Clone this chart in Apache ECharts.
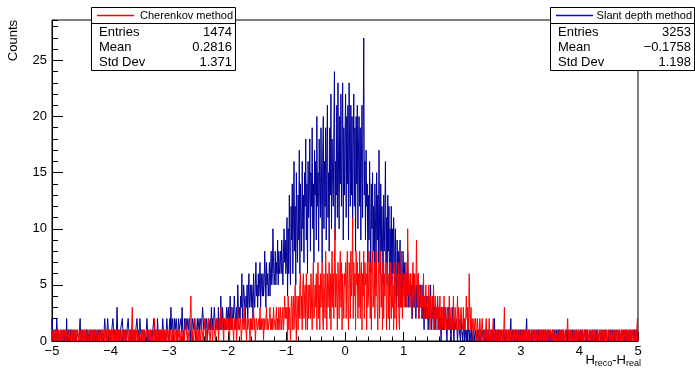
<!DOCTYPE html>
<html>
<head>
<meta charset="utf-8">
<script src="https://cdn.jsdelivr.net/npm/echarts@6/dist/echarts.min.js"></script>
<style>
html,body{margin:0;padding:0;background:#fff;}
#chart{width:695px;height:369px;}
</style>
</head>
<body>
<div id="chart"></div>
<script>
// histogram: 1000 bins of 0.01 from -5 to 5, one array per unit
var xMin = -5, xMax = 5, nPerUnit = 100;
var yMax = 28.6;

// Slant depth method (blue)
var blueM5 = [2,1,0,1,1,0,1,0,2,1, 0,1,1,0,0,1,1,1,0,1, 1,0,1,1,0,2,0,0,1,1, 0,1,0,1,1,0,1,1,0,1, 1,0,0,1,1,1,0,1,2,0,
              1,0,1,1,0,0,1,1,0,1, 0,1,1,0,1,0,0,1,1,0, 1,1,0,1,0,1,1,0,0,1, 1,0,1,1,1,0,1,1,0,1, 2,1,1,0,1,2,1,0,1,1];
var blueM4 = [1,0,1,1,2,1,0,1,1,0, 1,3,1,0,1,1,0,1,1,1, 2,1,0,1,1,0,1,0,1,1, 2,1,1,0,1,0,1,1,0,1, 1,1,0,1,1,2,1,0,1,0,
              2,1,1,0,1,1,0,1,1,1, 0,1,2,1,0,1,1,0,1,1, 1,0,1,1,2,1,0,1,1,0, 2,1,1,0,1,1,1,0,1,2, 1,0,1,1,0,1,2,1,1,0];
var blueM3 = [1,2,1,3,1,1,2,0,1,2, 1,1,2,1,0,1,2,1,1,1, 2,1,3,1,1,0,2,1,1,2, 1,1,2,1,1,2,1,0,1,1, 2,1,1,2,1,1,0,1,2,1,
              1,2,1,1,2,1,1,3,2,1, 1,2,1,1,2,0,1,2,1,1, 2,1,3,1,2,1,1,3,2,1, 1,2,2,1,3,1,2,1,4,2, 1,3,2,1,2,2,1,2,3,2];
var blueM2 = [2,3,1,2,4,2,3,1,2,3, 2,4,3,2,1,3,2,5,3,2, 3,2,4,3,6,2,3,5,4,3, 2,4,3,5,2,4,6,3,4,5, 3,5,4,2,6,4,3,5,7,4,
              5,3,6,4,5,7,3,6,5,4, 6,4,5,8,6,3,7,5,6,4, 5,7,4,6,8,5,6,10,7,5, 6,8,5,7,6,9,5,8,6,7, 8,6,9,7,5,8,10,7,9,6];
var blueM1 = [7,11,4,10,6,13,8,5,12,9, 14,6,11,16,8,12,5,15,10,7, 13,9,17,6,14,11,8,16,10,13, 7,15,12,18,9,14,6,16,11,13, 18,8,15,12,19,10,14,7,17,13,
              16,9,20,12,15,8,18,13,11,19, 14,7,17,20,10,16,12,19,9,17, 21,11,15,8,19,13,22,10,18,14, 12,19,24,9,16,13,21,11,23,15, 10,20,14,22,12,17,23,9,19,13];
var blueP0 = [18,22,11,20,14,21,9,23,16,12, 21,13,20,10,17,22,12,19,8,20, 14,21,10,17,20,12,19,9,16,21, 11,18,27,13,16,9,17,12,14,7, 13,9,16,11,6,14,10,15,8,12,
              7,14,11,5,15,9,13,7,17,10, 6,14,8,12,9,5,13,8,11,16, 7,11,5,13,8,12,4,10,7,12, 5,10,6,11,8,4,10,6,3,9, 5,8,3,7,9,4,6,3,5,8];
var blueP1 = [6,4,7,5,3,6,4,8,5,3, 5,4,6,3,5,2,4,6,3,5, 4,2,5,3,4,6,2,4,3,5, 3,4,2,5,3,1,4,2,3,4, 2,3,1,4,2,3,5,2,1,3,
              2,4,1,3,2,1,3,2,4,1, 2,3,1,2,0,3,1,2,1,3, 1,2,3,1,0,2,1,3,1,2, 1,0,2,1,3,1,0,2,1,1, 2,1,0,1,2,1,1,0,2,1];
var blueP2 = [1,0,1,2,0,1,1,0,1,0, 2,1,0,1,1,0,1,0,0,1, 1,0,1,1,0,0,1,0,1,1, 0,1,0,0,1,1,0,1,0,1, 1,0,0,1,0,1,1,0,0,1,
              0,1,1,0,0,2,0,1,0,0, 1,0,1,0,1,0,0,1,1,0, 0,1,0,0,1,0,1,0,0,1, 1,0,0,2,0,0,1,0,1,0, 0,1,0,1,0,0,1,0,0,1];
var blueP3 = [0,1,0,0,1,0,1,0,0,1, 2,0,0,1,0,1,0,0,1,0, 0,1,0,0,1,0,0,1,0,0, 1,0,0,1,0,0,1,0,0,1, 0,0,1,0,0,1,0,1,0,0,
              1,0,0,0,1,0,0,1,0,0, 0,1,0,0,1,0,1,0,0,0, 1,0,0,1,0,0,0,1,0,1, 0,0,1,0,0,1,0,0,1,0, 0,1,0,0,0,1,0,0,1,0];
var blueP4 = [0,0,1,0,0,1,0,0,0,1, 0,1,0,0,1,0,0,0,1,0, 0,0,1,0,0,0,1,0,0,1, 0,1,0,0,0,1,0,0,1,0, 0,0,1,0,0,1,0,0,0,0,
              1,0,0,1,0,0,0,1,0,0, 0,1,0,0,1,0,0,0,1,0, 0,0,1,0,0,0,1,0,0,1, 0,1,0,0,0,1,0,0,1,0, 0,0,1,0,1,0,0,1,0,1];

// Cherenkov method (red)
var redM5 = [1,1,0,1,0,0,1,0,1,0, 0,1,0,0,1,0,1,0,0,1, 0,0,1,0,1,0,0,1,0,0, 1,0,0,1,0,0,1,0,1,0, 0,1,0,0,1,0,0,0,1,0,
             1,0,0,1,0,1,0,0,1,0, 0,1,0,0,0,1,0,1,0,0, 1,0,1,0,0,1,0,0,1,0, 0,1,0,0,1,0,1,0,0,1, 0,0,1,0,1,0,0,1,0,1];
var redM4 = [0,1,0,1,0,0,1,0,1,0, 1,0,0,1,0,1,0,0,1,0, 0,1,0,0,1,0,1,0,0,1, 0,0,1,0,1,0,0,3,0,1, 0,1,0,0,1,0,1,0,0,1,
             1,0,0,1,0,1,0,1,0,0, 0,1,1,0,0,1,0,0,1,0, 1,0,0,1,0,2,0,1,0,1, 0,1,0,0,1,0,1,0,1,0, 1,0,1,0,0,1,0,1,1,0];
var redM3 = [1,0,1,1,0,1,0,1,1,0, 1,1,0,1,0,1,1,0,1,1, 0,1,1,0,1,1,0,1,2,1, 1,0,1,1,0,1,1,4,1,0, 1,1,0,1,2,1,0,1,1,0,
             1,0,1,1,0,2,1,1,0,1, 1,2,0,1,1,0,1,2,1,1, 0,1,2,1,0,1,2,1,1,0, 2,1,1,2,0,1,2,1,3,1, 1,2,1,0,2,1,1,2,1,2];
var redM2 = [1,2,1,0,2,1,3,1,2,1, 0,2,1,1,2,0,1,3,1,2, 1,1,2,0,1,2,1,1,3,1, 2,1,0,2,1,1,2,1,0,2, 1,2,1,1,3,1,2,0,1,2,
             2,1,1,2,1,3,1,2,1,1, 2,0,2,1,1,2,3,1,2,1, 1,2,3,1,2,1,2,1,3,2, 2,1,2,3,1,2,1,3,2,1, 3,2,1,2,3,1,2,4,2,3];
var redM1 = [2,3,0,4,1,3,2,0,3,4, 1,3,4,1,3,5,2,0,4,3, 1,4,2,5,6,2,4,1,5,6, 2,4,5,1,6,3,1,5,2,4, 5,2,6,3,1,5,7,2,3,5,
             3,6,1,5,7,2,5,1,6,3, 5,7,2,1,6,4,2,8,5,1, 6,3,5,7,2,6,1,5,8,3, 6,2,7,10,3,6,4,1,7,5, 2,6,8,3,7,1,6,4,2,6];
var redP0 = [5,7,2,6,8,3,1,7,6,2, 8,4,6,11,2,7,4,6,1,8, 5,7,2,6,3,8,2,6,7,1, 6,4,8,2,7,5,6,1,7,3, 4,8,6,2,7,1,6,8,3,4,
             7,2,6,4,8,3,1,6,7,2, 5,8,3,6,1,7,2,6,4,8, 5,1,7,5,2,6,1,7,4,2, 6,3,5,1,7,2,6,4,1,6, 4,7,2,1,6,3,8,5,2,6];
var redP1 = [5,3,6,4,7,5,3,10,4,6, 5,3,6,4,2,5,7,3,4,6, 3,5,9,4,3,6,2,5,4,3, 5,2,4,3,6,2,4,3,5,2, 3,4,2,5,3,1,4,2,3,4,
             2,5,3,1,4,2,3,2,4,1, 3,2,4,1,3,2,1,3,2,4, 1,3,2,1,2,3,1,2,4,1, 2,3,1,2,1,4,2,1,3,2, 1,2,4,1,3,2,1,2,3,2];
var redP2 = [2,1,3,1,2,1,2,4,2,3, 1,2,6,2,1,3,1,2,1,0, 2,1,1,2,0,1,2,1,1,0, 2,1,0,1,2,1,0,1,1,0, 1,2,0,1,1,0,2,1,0,1,
             1,0,1,2,0,1,1,0,1,0, 1,1,0,1,0,1,0,1,0,1, 0,1,3,0,1,0,1,1,0,1, 0,1,0,1,1,0,0,1,0,1, 1,0,1,0,0,1,1,0,1,0];
var redP3 = [0,1,0,1,0,0,1,0,1,0, 1,0,0,1,0,1,0,0,1,0, 0,1,0,0,1,0,1,0,0,1, 0,0,1,0,1,0,0,1,0,0, 1,0,1,0,0,1,0,0,1,0,
             0,1,0,0,1,0,1,0,0,1, 1,0,0,1,0,0,1,0,1,0, 0,1,0,1,0,0,1,0,0,1, 2,0,1,0,0,1,0,1,0,0, 1,0,0,1,0,1,0,0,1,0];
var redP4 = [0,1,0,0,1,0,1,0,0,1, 0,0,1,0,1,0,0,1,0,0, 1,0,0,1,0,1,0,0,1,0, 0,1,0,0,1,0,0,1,0,1, 0,0,1,0,0,1,0,1,0,0,
             1,0,1,0,0,1,0,0,1,0, 0,1,0,0,1,0,1,0,0,1, 0,0,1,0,1,0,0,1,0,0, 1,0,0,1,0,0,1,0,1,0, 0,1,0,1,0,0,1,0,1,2];

var statNames = ['Entries', 'Mean', 'Std Dev'];
var redStats = ['1474', '0.2816', '1.371'];
var blueStats = ['3253', '\u22120.1758', '1.198'];

var blueCounts = [].concat(blueM5, blueM4, blueM3, blueM2, blueM1, blueP0, blueP1, blueP2, blueP3, blueP4);
var redCounts = [].concat(redM5, redM4, redM3, redM2, redM1, redP0, redP1, redP2, redP3, redP4);

// step outline like ROOT: start and end at 0
function steps(counts){
  var pts = [[xMin, 0]];
  for (var i = 0; i < counts.length; i++) {
    pts.push([xMin + i / nPerUnit, counts[i]]);
  }
  pts.push([xMax, counts[counts.length - 1]]);
  pts.push([xMax, 0]);
  return pts;
}

var font = 'Liberation Sans, Arial, Helvetica, sans-serif';

function statBox(id, x, lineColor, title, vals){
  return {
    type:'group', id:id, z:100, children:[
      {type:'rect', shape:{x:x+0.5, y:7.5, width:144, height:63}, style:{fill:'#fff', stroke:'#000', lineWidth:1}},
      {type:'line', shape:{x1:x+0.5, y1:23.5, x2:x+144.5, y2:23.5}, style:{stroke:'#000', lineWidth:1}},
      {type:'line', shape:{x1:x+6, y1:15.5, x2:x+43, y2:15.5}, style:{stroke:lineColor, fill:null, lineWidth:1.5}},
      {type:'text', style:{x:x+142, y:15.5, text:title, align:'right', verticalAlign:'middle', font:'11px ' + font, fill:'#000'}},
      {type:'text', style:{x:x+8, y:32, text:statNames[0], verticalAlign:'middle', font:'13px ' + font, fill:'#000'}},
      {type:'text', style:{x:x+8, y:47, text:statNames[1], verticalAlign:'middle', font:'13px ' + font, fill:'#000'}},
      {type:'text', style:{x:x+8, y:62, text:statNames[2], verticalAlign:'middle', font:'13px ' + font, fill:'#000'}},
      {type:'text', style:{x:x+141, y:32, text:vals[0], align:'right', verticalAlign:'middle', font:'13px ' + font, fill:'#000'}},
      {type:'text', style:{x:x+141, y:47, text:vals[1], align:'right', verticalAlign:'middle', font:'13px ' + font, fill:'#000'}},
      {type:'text', style:{x:x+141, y:62, text:vals[2], align:'right', verticalAlign:'middle', font:'13px ' + font, fill:'#000'}}
    ]
  };
}

var chart = echarts.init(document.getElementById('chart'));

var tickColor = '#000';
var option = {
  animation: false,
  backgroundColor: '#fff',
  grid: {left:52, right:57, top:20, bottom:28, show:true, borderColor:'#000', borderWidth:1, backgroundColor:'transparent'},
  xAxis: {
    type:'value', min:xMin, max:xMax, interval:1,
    axisLine:{show:true, onZero:false, lineStyle:{color:tickColor}},
    axisTick:{inside:true, length:9, lineStyle:{color:tickColor}},
    minorTick:{show:true, splitNumber:5, length:4.5, lineStyle:{color:tickColor}},
    splitLine:{show:false},
    axisLabel:{color:'#000', fontSize:13, fontFamily:font, margin:4,
      formatter:function(v){ return String(v).replace('-', '\u2212'); }}
  },
  yAxis: [
    {
      type:'value', min:0, max:yMax, interval:5, position:'left',
      axisLine:{show:true, onZero:false, lineStyle:{color:tickColor}},
      axisTick:{inside:true, length:11, lineStyle:{color:tickColor}},
      splitLine:{show:false},
      axisLabel:{color:'#000', fontSize:13, fontFamily:font, margin:5, showMaxLabel:false}
    },
    {
      type:'value', min:0, max:yMax, interval:1, position:'left',
      axisLine:{show:false, onZero:false},
      axisTick:{inside:true, length:6, lineStyle:{color:tickColor}},
      splitLine:{show:false},
      axisLabel:{show:false}
    }
  ],
  graphic: [
    statBox('boxRed', 91, '#ff0000', 'Cherenkov method', redStats),
    statBox('boxBlue', 550, '#0000ff', 'Slant depth method', blueStats),
    {type:'text', id:'ytitle', style:{x:13, y:20, text:'Counts', align:'right', verticalAlign:'middle', font:'13px ' + font, fill:'#000'}, rotation:Math.PI/2, originX:13, originY:20},
    {type:'text', id:'xtitle', style:{x:641, y:360, text:'{n|H}{s|reco}{n|-H}{s|real}', align:'right', verticalAlign:'middle', fill:'#000',
      rich:{n:{fontSize:13, fontFamily:font, fill:'#000'}, s:{fontSize:9, fontFamily:font, fill:'#000', padding:[7,0,0,0]}}}}
  ],
  series: [
    {type:'line', step:'end', data:steps(blueCounts), symbol:'none', showSymbol:false, silent:true, z:2,
     lineStyle:{color:'#000099', width:1}},
    {type:'line', step:'end', data:steps(redCounts), symbol:'none', showSymbol:false, silent:true, z:3,
     lineStyle:{color:'#ff0000', width:1}}
  ]
};
chart.setOption(option);
</script>
</body>
</html>
